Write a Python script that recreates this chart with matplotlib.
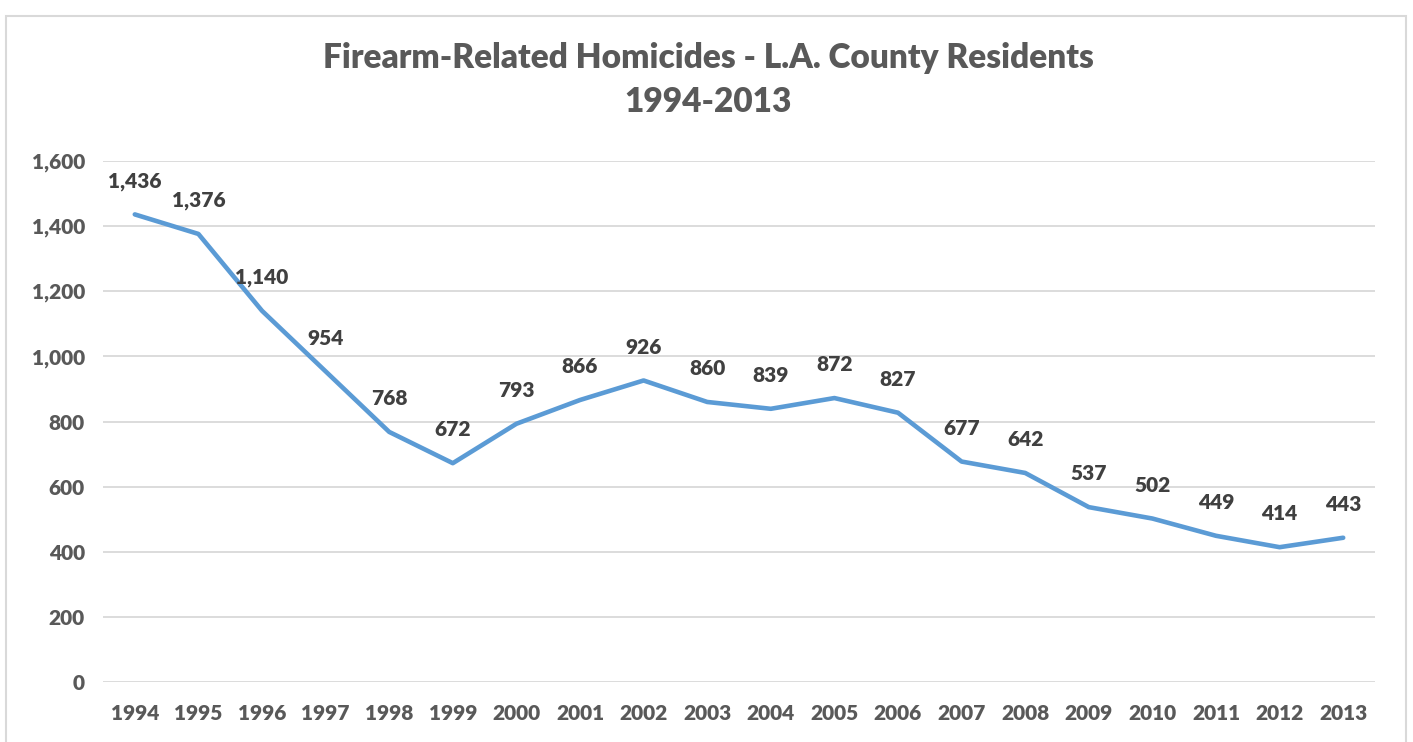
import matplotlib
matplotlib.use("Agg")
import matplotlib.pyplot as plt
from matplotlib.patches import Rectangle
from matplotlib.ticker import FuncFormatter

years = [str(y) for y in range(1994, 2014)]
homicides = [1436, 1376, 1140, 954, 768, 672, 793, 866, 926, 860,
             839, 872, 827, 677, 642, 537, 502, 449, 414, 443]
title_lines = ["Firearm-Related Homicides - L.A. County Residents", "1994-2013"]

plt.rcParams["font.family"] = ["Lato", "DejaVu Sans"]
WEIGHT = "heavy"

W, H = 1413, 742
fig = plt.figure(figsize=(W / 100, H / 100), dpi=100)

# chart border (bottom runs off the image)
fig.patches.append(Rectangle((6 / W, -0.05), (1406 - 6) / W, 1.05 - 16 / H,
                             transform=fig.transFigure, fill=False,
                             edgecolor="#D9D9D9", linewidth=1.5))

ax = fig.add_axes([103 / W, 1 - 682 / H, (1375 - 103) / W, (682 - 161) / H])
x = list(range(len(years)))
ax.plot(x, homicides, color="#5B9BD5", linewidth=3.3, solid_capstyle="round",
        solid_joinstyle="round", zorder=3)

for xi, v in zip(x, homicides):
    ax.annotate(f"{v:,}", (xi, v), xytext=(0, 24), textcoords="offset points",
                ha="center", va="center", fontsize=15, fontweight=WEIGHT,
                color="#404040", zorder=4)

ax.set_xlim(-0.5, len(years) - 0.5)
ax.set_ylim(0, 1600)
ax.set_yticks(range(0, 1601, 200))
ax.yaxis.set_major_formatter(FuncFormatter(lambda v, p: f"{int(v):,}"))
ax.set_xticks(x)
ax.set_xticklabels(years)
ax.grid(axis="y", color="#D9D9D9", linewidth=1.3)
ax.set_axisbelow(True)
for s in ax.spines.values():
    s.set_visible(False)
ax.tick_params(length=0, labelsize=15, labelcolor="#595959")
ax.tick_params(axis="y", pad=13)
ax.tick_params(axis="x", pad=16)
for lbl in ax.get_xticklabels() + ax.get_yticklabels():
    lbl.set_fontweight(WEIGHT)

fig.text(708 / W, 1 - 58 / H, title_lines[0], ha="center", va="center",
         fontsize=24, fontweight=WEIGHT, color="#595959")
fig.text(708 / W, 1 - 102 / H, title_lines[1], ha="center", va="center",
         fontsize=24, fontweight=WEIGHT, color="#595959")

fig.savefig("out.png", dpi=100)
